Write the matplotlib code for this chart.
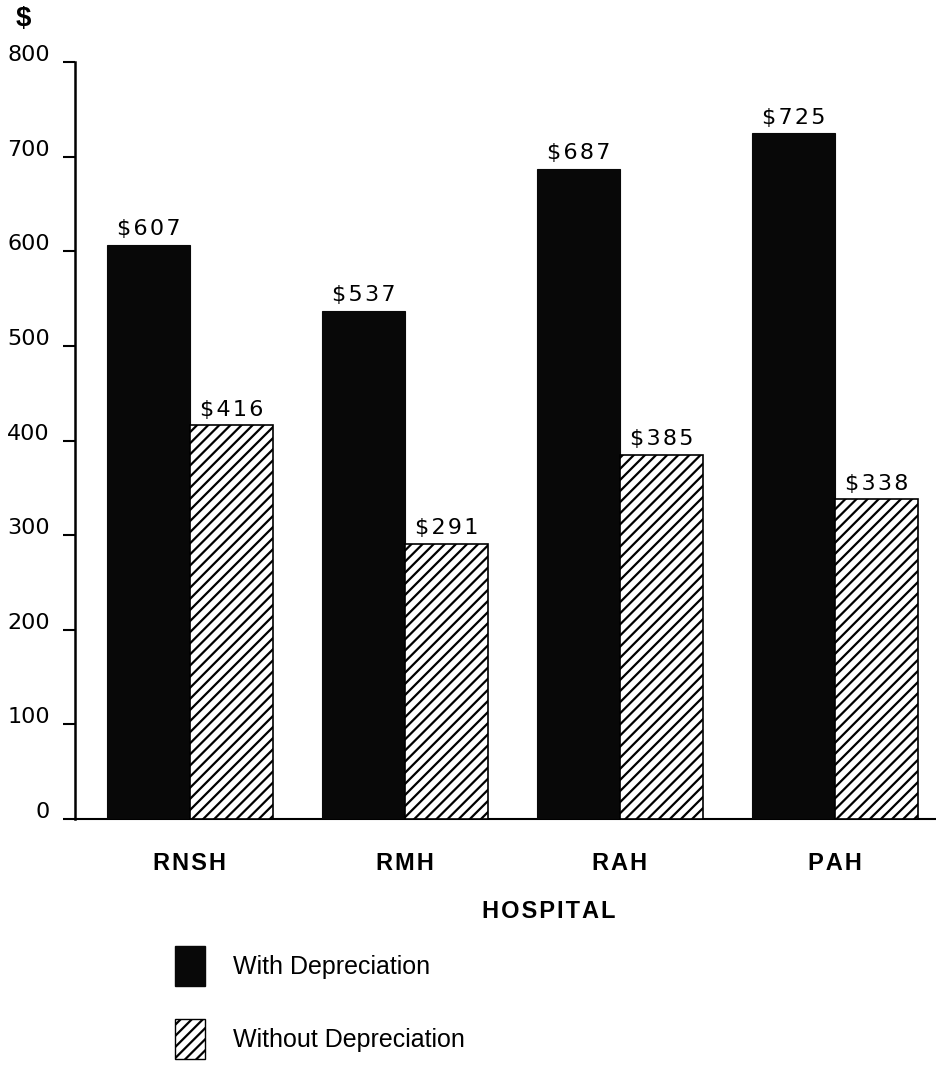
import numpy as np
import matplotlib
matplotlib.use('Agg')
import matplotlib.pyplot as plt
from matplotlib.patches import Patch
from matplotlib.transforms import ScaledTranslation

hospitals = ['RNSH', 'RMH', 'RAH', 'PAH']
with_dep = [607, 537, 687, 725]
without_dep = [416, 291, 385, 338]
series_labels = ['With Depreciation', 'Without Depreciation']
yticks = [0, 100, 200, 300, 400, 500, 600, 700, 800]

plt.rcParams['font.family'] = ['Liberation Sans', 'DejaVu Sans']
plt.rcParams['hatch.linewidth'] = 1.6

HAIR = '\u200a'


def spaced(s):
    return HAIR.join(s)


fig = plt.figure(figsize=(9.36, 10.73), dpi=100)
ax = fig.add_axes([0.080, 0.2367, 0.92, 0.7053])

x = np.arange(len(hospitals))
w = 0.385
b1 = ax.bar(x - w / 2, with_dep, w, color='#080808', edgecolor='#080808', linewidth=0.8, zorder=3)
b2 = ax.bar(x + w / 2, without_dep, w, color='white', edgecolor='black', hatch='///', linewidth=1.2, zorder=3)

# value labels above each bar
for bars, vals in [(b1, with_dep), (b2, without_dep)]:
    for bar, v in zip(bars, vals):
        ax.text(bar.get_x() + bar.get_width() / 2, v + 6, spaced(f'${v}'), ha='center', va='bottom',
                fontsize=16, family=['DejaVu Sans'])

ax.set_xlim(-0.535, 3.47)
ax.set_ylim(0, 800)
ax.set_yticks(yticks)
ax.set_yticklabels([str(t) for t in yticks], fontsize=16, family=['DejaVu Sans'])
ax.tick_params(axis='y', length=8.6, width=1.5, pad=9.4)
up = ScaledTranslation(0, 9 / 100, fig.dpi_scale_trans)
for lab in ax.get_yticklabels():
    lab.set_transform(lab.get_transform() + up)

ax.set_xticks(x)
ax.set_xticklabels([spaced(h) for h in hospitals], fontsize=17, fontweight='bold')
ax.tick_params(axis='x', length=0, pad=24)
ax.spines['top'].set_visible(False)
ax.spines['right'].set_visible(False)
ax.spines['left'].set_linewidth(1.8)
ax.spines['bottom'].set_linewidth(1.5)

ax.set_xlabel(spaced('HOSPITAL'), fontsize=17, fontweight='bold')
ax.xaxis.set_label_coords(0.55, -0.1075)

fig.text(0.025, 0.982, '$', fontsize=20, fontweight='bold', ha='center', va='center')

handles = [Patch(facecolor='#080808', edgecolor='#080808'),
           Patch(facecolor='white', edgecolor='black', hatch='///')]
fig.legend(handles, series_labels, loc='upper left', bbox_to_anchor=(0.174, 0.130),
           frameon=False, fontsize=18, borderpad=0, handlelength=1.2, handleheight=2.1,
           labelspacing=1.3, handletextpad=1.1)

fig.savefig('out.png', dpi=100)
